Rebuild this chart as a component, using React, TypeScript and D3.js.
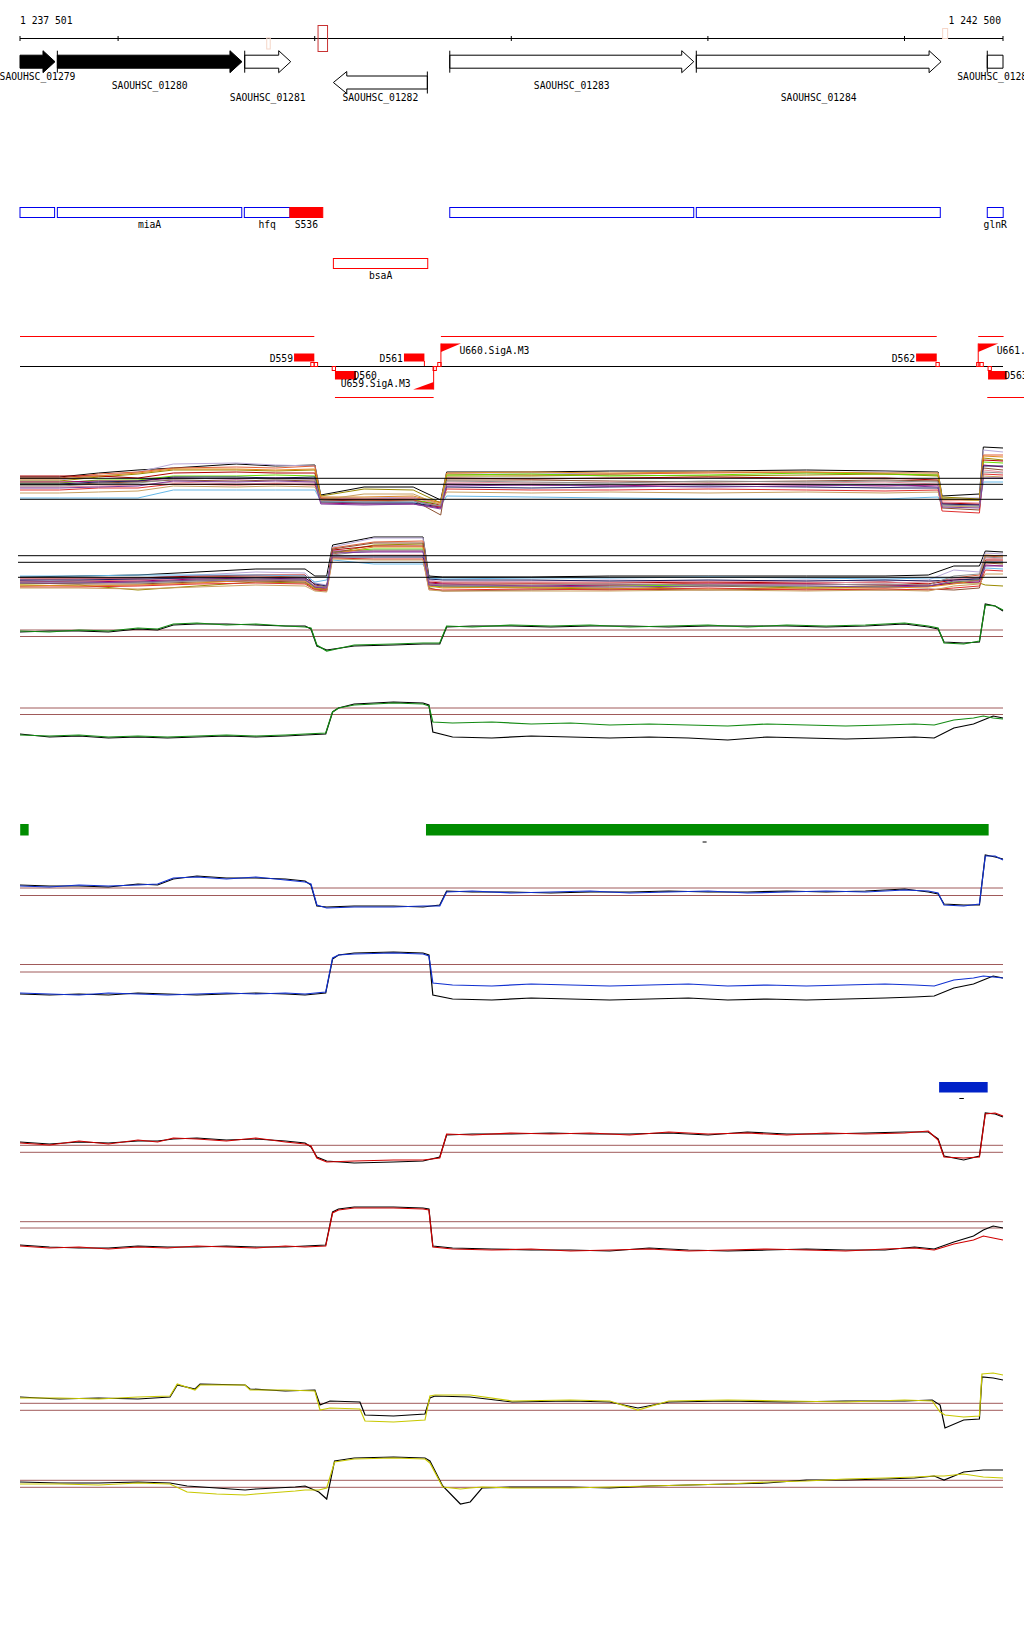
import React from 'react';
import * as d3 from 'd3';

// ---------- window ----------
const START = 1237501;
const END = 1242500;
const RULER_TICKS = [1238000, 1239000, 1240000, 1241000, 1242000];
const RULER_LABELS = ['1 237 501', '1 242 500'];

// ---------- genes (bp) ----------
const GENE_NAMES = ['SAOUHSC_01279', 'SAOUHSC_01280', 'SAOUHSC_01281', 'SAOUHSC_01282', 'SAOUHSC_01283', 'SAOUHSC_01284', 'SAOUHSC_01285'];
const GENE_FROM = [1237380, 1237691, 1238644, 1239095, 1239687, 1240941, 1242421];
const GENE_TO = [1237679, 1238630, 1238878, 1239573, 1240928, 1242186, 1242700];
const GENE_STRAND = [1, 1, 1, -1, 1, 1, 1];
const GENE_FILLED = [true, true, false, false, false, false, false];

// ---------- annotations (offsets from window start, bp) ----------
const ANNOT_NAMES = ['', 'miaA', 'hfq', 'S536', '', '', 'glnR'];
const ANNOT_FROM = [0, 190, 1141, 1373, 2186, 3440, 4920];
const ANNOT_TO = [176, 1128, 1373, 1540, 3427, 4681, 5001];
const ANNOT_KIND = ['cds', 'cds', 'cds', 'srna', 'cds', 'cds', 'cds'];
const ASRNA_NAMES = ['bsaA'];
const ASRNA_FROM = [1594];
const ASRNA_TO = [2074];

// ---------- ruler marks ----------
const MARK_RULER_POS = [1255, 1516, 4693];

// ---------- segments / promoters ----------
const PLUS_FROM = [0, 2141, 4874];
const PLUS_TO = [1497, 4663, 5003];
const MINUS_FROM = [1602, 4920];
const MINUS_TO = [2104, 5110];
const SEG_NAMES = ['D559', 'D560', 'D561', 'D562', 'D563'];
const SEG_FROM = [1394, 1602, 1953, 4558, 4924];
const SEG_TO = [1497, 1709, 2057, 4663, 5019];
const SEG_STRAND = [1, -1, 1, 1, -1];
const FLAG_NAMES = ['U659.SigA.M3', 'U660.SigA.M3', 'U661.SigA.M3'];
const FLAG_POS = [2104, 2141, 4874];
const FLAG_STRAND = [-1, 1, 1];
const MARK_POS = [1479, 1497, 1588, 2101, 2125, 4659, 4866, 4883, 4924];
const MARK_SIDE = [1, 1, -1, -1, 1, 1, 1, 1, -1];

// ---------- multi-series tracks ----------
const MULTI_COLORS = ['#000000', '#b8a8d8', '#e0603a', '#9a8a00', '#b00000', '#66dd00', '#a0006a', '#66b8e8', '#8b5030', '#e890a0', '#e08a20', '#202060', '#e03030', '#c8a060', '#909090', '#8040a0'];

const A_KNOTS = [0, 200, 400, 600, 780, 1100, 1300, 1500, 1530, 1750, 2000, 2140, 2170, 2600, 3000, 3500, 4000, 4400, 4670, 4690, 4880, 4900, 5000];
const A_SERIES = [
  [43, 43, 47, 50, 52, 56, 54, 55, 25, 33, 33, 20, 48, 48, 49, 49, 50, 49, 48, 24, 26, 73, 72],
  [40, 40, 44, 48, 56, 57, 55, 54, 23, 22, 23, 15, 47, 47, 46, 48, 47, 48, 47, 22, 22, 70, 68],
  [42, 42, 46, 48, 52, 53, 52, 54, 22, 21, 22, 18, 46, 45, 46, 47, 48, 46, 45, 20, 20, 65, 65],
  [39, 39, 43, 46, 50, 50, 49, 50, 24, 31, 30, 17, 44, 44, 45, 44, 45, 46, 44, 23, 21, 62, 60],
  [44, 44, 44, 42, 47, 48, 47, 47, 20, 19, 20, 15, 42, 41, 42, 43, 42, 42, 40, 17, 16, 60, 59],
  [37, 37, 40, 40, 44, 44, 45, 44, 21, 20, 20, 16, 45, 46, 44, 45, 47, 46, 45, 21, 20, 58, 57],
  [38, 38, 39, 39, 42, 41, 42, 41, 17, 16, 16, 12, 36, 35, 34, 36, 35, 34, 35, 16, 15, 55, 53],
  [22, 22, 22, 22, 30, 30, 30, 30, 19, 18, 18, 14, 24, 23, 22, 21, 21, 21, 23, 15, 14, 38, 38],
  [35, 35, 37, 38, 40, 39, 40, 39, 20, 20, 20, 5, 40, 40, 39, 38, 39, 40, 39, 12, 10, 52, 50],
  [33, 33, 34, 35, 38, 36, 37, 37, 22, 21, 22, 16, 38, 37, 38, 36, 37, 38, 36, 18, 17, 50, 48],
  [41, 41, 44, 47, 51, 51, 50, 51, 23, 23, 24, 17, 47, 48, 47, 48, 48, 47, 47, 21, 20, 64, 63],
  [36, 36, 38, 39, 43, 43, 42, 43, 18, 17, 17, 13, 33, 32, 33, 34, 33, 32, 32, 16, 15, 54, 54],
  [30, 30, 32, 32, 36, 35, 36, 35, 21, 20, 20, 13, 31, 30, 30, 31, 30, 29, 30, 9, 7, 46, 45],
  [27, 27, 28, 29, 34, 33, 34, 33, 20, 26, 26, 15, 28, 27, 28, 27, 28, 27, 28, 14, 13, 44, 43],
  [34, 34, 36, 37, 41, 42, 41, 41, 18, 18, 19, 14, 39, 38, 37, 39, 38, 39, 38, 15, 14, 48, 47],
  [32, 32, 33, 34, 39, 38, 39, 38, 16, 15, 16, 11, 34, 35, 34, 33, 34, 35, 33, 13, 12, 42, 42],
];
const A_REFS = [41.7, 35.7, 20.7];

const B_KNOTS = [0, 300, 600, 900, 1200, 1450, 1500, 1560, 1590, 1800, 2050, 2080, 2150, 2600, 3000, 3500, 4000, 4400, 4620, 4750, 4880, 4910, 5000];
const B_SERIES = [
  [23, 24, 25, 28, 31, 31, 24, 24, 55, 63, 63, 24, 23, 23, 24, 24, 24, 24, 25, 34, 34, 49, 48],
  [20, 21, 22, 25, 28, 27, 17, 15, 53, 62, 62, 20, 18, 19, 20, 19, 20, 19, 20, 30, 28, 47, 46],
  [18, 19, 20, 23, 24, 23, 12, 10, 52, 58, 59, 16, 15, 16, 15, 17, 16, 15, 16, 22, 25, 44, 43],
  [14, 15, 10, 14, 18, 17, 11, 10, 47, 55, 56, 15, 13, 12, 11, 14, 12, 13, 14, 17, 17, 15, 14],
  [22, 22, 22, 24, 25, 25, 15, 13, 50, 54, 54, 18, 17, 17, 17, 18, 17, 18, 16, 20, 22, 40, 40],
  [16, 17, 18, 20, 21, 20, 12, 11, 48, 51, 51, 13, 14, 13, 14, 15, 13, 14, 14, 18, 20, 38, 37],
  [19, 18, 19, 21, 22, 21, 13, 11, 49, 49, 49, 17, 16, 14, 15, 16, 16, 15, 14, 17, 18, 35, 34],
  [24, 24, 25, 25, 25, 24, 18, 20, 40, 36, 36, 22, 21, 22, 22, 23, 22, 21, 22, 22, 22, 32, 31],
  [17, 16, 16, 18, 19, 18, 11, 10, 51, 57, 57, 12, 9, 10, 11, 10, 11, 10, 11, 10, 12, 37, 36],
  [21, 20, 20, 22, 23, 22, 14, 12, 44, 45, 45, 19, 18, 18, 18, 19, 18, 17, 18, 21, 23, 42, 41],
  [15, 14, 15, 17, 20, 19, 11, 11, 46, 53, 53, 14, 12, 13, 12, 11, 12, 12, 13, 16, 20, 45, 44],
  [20, 20, 21, 22, 22, 22, 16, 14, 43, 43, 43, 21, 20, 20, 19, 20, 19, 20, 19, 20, 21, 38, 38],
  [13, 13, 14, 16, 17, 16, 10, 9, 42, 41, 41, 11, 10, 11, 10, 12, 10, 11, 10, 12, 14, 30, 29],
  [12, 12, 11, 13, 15, 14, 9, 8, 41, 40, 40, 10, 9, 9, 9, 10, 9, 10, 9, 14, 16, 26, 26],
  [18, 18, 17, 19, 21, 20, 14, 13, 45, 50, 50, 16, 15, 15, 16, 15, 15, 16, 15, 24, 26, 43, 42],
  [17, 17, 18, 20, 20, 20, 13, 12, 47, 48, 48, 15, 14, 14, 13, 14, 14, 13, 14, 19, 19, 34, 34],
];
const B_REFS = [44.3, 37.7, 22.7];

// ---------- paired tracks ----------
const KC = [0, 150, 300, 450, 600, 700, 780, 900, 1050, 1200, 1350, 1450, 1480, 1510, 1560, 1700, 1900, 2050, 2135, 2170, 2300, 2500, 2700, 2900, 3100, 3300, 3500, 3700, 3900, 4100, 4300, 4500, 4620, 4670, 4700, 4800, 4880, 4910, 4960, 5000];
const KD = [0, 150, 300, 450, 600, 750, 900, 1050, 1200, 1350, 1450, 1555, 1590, 1620, 1700, 1900, 2050, 2080, 2100, 2200, 2400, 2600, 2800, 3000, 3200, 3400, 3600, 3800, 4000, 4200, 4400, 4550, 4650, 4750, 4850, 4900, 4950, 5000];
const KI = [0, 200, 400, 600, 763, 800, 890, 916, 1145, 1170, 1350, 1500, 1526, 1577, 1729, 1755, 1900, 2060, 2085, 2111, 2289, 2503, 2800, 3000, 3143, 3300, 3600, 3900, 4200, 4500, 4640, 4680, 4705, 4800, 4880, 4893, 4950, 5000];
const KJ = [0, 200, 400, 600, 763, 850, 1000, 1145, 1200, 1400, 1450, 1520, 1560, 1600, 1700, 1900, 2060, 2085, 2150, 2240, 2290, 2350, 2503, 2800, 3000, 3200, 3400, 3600, 3800, 4000, 4200, 4400, 4550, 4650, 4700, 4800, 4900, 5000];

const C_GREEN = [29, 28, 30, 29, 32, 31, 36, 37, 35, 36, 34, 33, 32, 15, 9, 15, 16, 17, 17, 34, 33, 35, 34, 35, 33, 34, 35, 33, 35, 34, 35, 37, 34, 32, 17, 16, 19, 55, 54, 50];
const C_BLACK = [28, 29, 29, 28, 31, 30, 35, 36, 36, 35, 34, 34, 31, 14, 10, 14, 15, 16, 16, 33, 34, 34, 33, 34, 34, 33, 34, 34, 34, 33, 34, 36, 33, 31, 18, 17, 18, 56, 54, 49];
const C_REFS = [30, 23.5];

const D_GREEN = [25, 24, 25, 23, 24, 23, 24, 25, 24, 25, 26, 27, 48, 52, 55, 57, 56, 54, 38, 37, 38, 36, 37, 35, 36, 35, 34, 36, 35, 34, 35, 36, 35, 40, 42, 44, 42, 41];
const D_BLACK = [26, 23, 24, 22, 23, 22, 23, 24, 23, 24, 25, 26, 48, 52, 56, 58, 57, 55, 28, 23, 22, 24, 23, 22, 23, 22, 20, 23, 22, 21, 22, 23, 22, 32, 36, 40, 44, 42];
const D_REFS = [52, 45.5];

const E_BLUE = [44, 43, 45, 44, 45, 46, 52, 53, 51, 53, 50, 48, 46, 25, 22, 23, 23, 24, 24, 38, 39, 37, 38, 39, 37, 38, 39, 37, 38, 39, 38, 40, 39, 37, 25, 24, 26, 74, 74, 70];
const E_BLACK = [45, 44, 44, 43, 46, 45, 51, 54, 52, 52, 51, 49, 45, 24, 23, 24, 24, 23, 25, 39, 38, 38, 37, 38, 38, 39, 38, 38, 39, 38, 39, 41, 38, 36, 26, 25, 25, 75, 73, 71];
const E_REFS = [42, 34.5];

const F_BLUE = [27, 26, 25, 27, 26, 25, 26, 27, 26, 27, 26, 28, 62, 65, 66, 67, 66, 64, 37, 35, 34, 36, 35, 34, 35, 36, 34, 35, 34, 35, 36, 35, 34, 40, 42, 44, 43, 42];
const F_BLACK = [26, 25, 26, 25, 27, 26, 25, 26, 27, 26, 25, 27, 61, 65, 67, 68, 67, 65, 25, 21, 20, 22, 21, 20, 21, 22, 20, 21, 20, 21, 22, 23, 24, 32, 36, 40, 44, 42];
const F_REFS = [55.5, 48];

const G_RED = [37, 35, 39, 36, 40, 38, 42, 41, 39, 42, 38, 36, 34, 22, 18, 19, 20, 20, 22, 46, 45, 47, 46, 47, 45, 48, 46, 47, 45, 47, 46, 47, 49, 40, 23, 22, 23, 66, 67, 64];
const G_BLACK = [38, 36, 38, 37, 39, 39, 41, 42, 40, 41, 39, 37, 33, 23, 19, 17, 18, 19, 23, 45, 46, 46, 47, 46, 46, 47, 45, 48, 46, 46, 47, 48, 48, 41, 24, 20, 24, 67, 66, 63];
const G_REFS = [34.7, 27.7];

const H_RED = [24, 22, 23, 21, 23, 22, 24, 23, 22, 24, 23, 24, 57, 60, 62, 62, 61, 60, 23, 21, 20, 21, 19, 20, 21, 19, 20, 21, 20, 19, 21, 22, 20, 26, 30, 34, 32, 30];
const H_BLACK = [25, 23, 22, 22, 24, 23, 23, 24, 23, 23, 24, 25, 58, 61, 63, 63, 62, 61, 24, 22, 21, 20, 20, 19, 22, 20, 19, 20, 21, 20, 20, 23, 21, 28, 34, 40, 44, 42];
const H_REFS = [48.3, 42];

const I_YELLOW = [52, 52, 51, 53, 54, 66, 60, 65, 65, 60, 60, 59, 40, 42, 41, 29, 28, 30, 54, 55, 55, 49, 50, 49, 40, 49, 50, 49, 48, 50, 49, 38, 35, 33, 34, 76, 77, 75];
const I_BLACK = [53, 51, 52, 51, 53, 65, 61, 66, 65, 61, 59, 60, 45, 49, 48, 35, 34, 36, 52, 54, 53, 48, 49, 48, 42, 48, 49, 48, 49, 49, 50, 45, 22, 30, 31, 73, 72, 70];
const I_REFS = [46.7, 39.7];

const J_YELLOW = [46, 46, 45, 47, 46, 38, 36, 35, 36, 39, 40, 40, 42, 68, 71, 72, 71, 67, 43, 41, 42, 43, 42, 42, 43, 44, 45, 46, 48, 49, 51, 52, 53, 54, 54, 56, 53, 52];
const J_BLACK = [48, 47, 47, 48, 47, 44, 42, 40, 41, 43, 44, 38, 31, 69, 72, 73, 72, 69, 44, 26, 28, 42, 43, 43, 42, 44, 45, 46, 47, 50, 50, 51, 52, 54, 50, 58, 60, 60];
const J_REFS = [49.7, 42.7];

// ---------- region bars ----------
const GREEN_FROM = [1, 2065];
const GREEN_TO = [44, 4927];
const GREEN_DASH = [3472];
const BLUE_FROM = [4675];
const BLUE_TO = [4922];
const BLUE_DASH = [4778];

// ---------- layout ----------
const X0 = 20;
const X1 = 1003;
const RULER_Y = 38.5;
const GENE_CY = [61.7, 82.5];
const GENE_LABEL_Y = [79.5, 89, 101, 101, 89, 101, 79.5];
const FONT = "'DejaVu Sans Mono', 'Liberation Mono', monospace";

export default function App() {
  const x = d3.scaleLinear().domain([0, END - START + 1]).range([X0, X1]);
  const gx = (bp: number) => x(bp - START);
  const yTrack = (bottom: number) => d3.scaleLinear().domain([0, 100]).range([bottom, bottom - 100]);

  const lineOf = (knots: number[], y: d3.ScaleLinear<number, number>) =>
    d3.line<number>().x((_, i) => x(knots[i])).y((v) => y(v));

  // ---- genes ----
  const genes = GENE_NAMES.map((name, i) => {
    const xs = Math.max(gx(GENE_FROM[i]), X0);
    const xe = Math.min(gx(GENE_TO[i]), X1);
    const rev = GENE_STRAND[i] < 0;
    const cy = rev ? GENE_CY[1] : GENE_CY[0];
    const bh = 6.5, hh = 11, hl = 12;
    let pts: [number, number][];
    const startClipped = GENE_FROM[i] < START;
    const endClipped = GENE_TO[i] > END;
    if (!rev) {
      if (endClipped) {
        pts = [[xs, cy - bh], [xe, cy - bh], [xe, cy + bh], [xs, cy + bh]];
      } else {
        const hx = xe - hl;
        pts = [[xs, cy - bh], [hx, cy - bh], [hx, cy - hh], [xe, cy], [hx, cy + hh], [hx, cy + bh], [xs, cy + bh]];
      }
    } else {
      const hx = xs + hl + 1.4;
      pts = [[xe, cy - bh], [hx, cy - bh], [hx, cy - hh], [xs, cy], [hx, cy + hh], [hx, cy + bh], [xe, cy + bh]];
    }
    const barX = rev ? xe : xs;
    const showBar = rev ? GENE_TO[i] <= END : !startClipped;
    return (
      <g key={name}>
        <polygon points={pts.map((p) => p.join(',')).join(' ')} fill={GENE_FILLED[i] ? '#000' : '#fff'} stroke="#000" strokeWidth={1} />
        {showBar && <line x1={barX} x2={barX} y1={cy - hh} y2={cy + hh} stroke="#000" strokeWidth={1} />}
        <text x={(xs + xe) / 2} y={GENE_LABEL_Y[i]} textAnchor="middle">{name}</text>
      </g>
    );
  });

  // ---- paired tracks ----
  const paired = [
    { knots: KC, bottom: 660, refs: C_REFS, series: [[C_BLACK, '#000'], [C_GREEN, '#138a13']] },
    { knots: KD, bottom: 760, refs: D_REFS, series: [[D_BLACK, '#000'], [D_GREEN, '#138a13']] },
    { knots: KC, bottom: 930, refs: E_REFS, series: [[E_BLACK, '#000'], [E_BLUE, '#1030d0']] },
    { knots: KD, bottom: 1020, refs: F_REFS, series: [[F_BLACK, '#000'], [F_BLUE, '#1030d0']] },
    { knots: KC, bottom: 1180, refs: G_REFS, series: [[G_BLACK, '#000'], [G_RED, '#d00000']] },
    { knots: KD, bottom: 1270, refs: H_REFS, series: [[H_BLACK, '#000'], [H_RED, '#d00000']] },
    { knots: KI, bottom: 1450, refs: I_REFS, series: [[I_BLACK, '#000'], [I_YELLOW, '#c8c800']] },
    { knots: KJ, bottom: 1530, refs: J_REFS, series: [[J_BLACK, '#000'], [J_YELLOW, '#c8c800']] },
  ];

  const yA = yTrack(520);
  const yB = yTrack(600);

  const segRectY = (strand: number) => (strand > 0 ? [353.5, 361.5] : [371, 379.5]);

  return (
    <svg width={1024} height={1640} style={{ position: 'absolute', left: 0, top: 0, background: '#fff' }} fontFamily={FONT} fontSize={9.7}>
      <rect x={0} y={0} width={1024} height={1640} fill="#fff" />
      {/* ruler */}
      <line x1={X0} x2={X1} y1={RULER_Y} y2={RULER_Y} stroke="#000" />
      {[0, ...RULER_TICKS.map((t) => t - START), END - START + 1].map((t, i) => (
        <line key={i} x1={x(t)} x2={x(t)} y1={RULER_Y - 2.5} y2={RULER_Y + 2.5} stroke="#000" />
      ))}
      <text x={X0} y={24}>{RULER_LABELS[0]}</text>
      <text x={X1 - 2} y={24} textAnchor="end">{RULER_LABELS[1]}</text>
      <rect x={x(MARK_RULER_POS[0])} y={38} width={3.5} height={11} fill="none" stroke="#f5d6c8" />
      <rect x={x(MARK_RULER_POS[1])} y={25.5} width={9.5} height={26} fill="none" stroke="#c83232" />
      <rect x={x(MARK_RULER_POS[2])} y={28.5} width={5} height={10} fill="none" stroke="#f5d6c8" />

      {genes}

      {/* annotations */}
      {ANNOT_NAMES.map((n, i) => {
        const x1 = x(ANNOT_FROM[i]);
        const x2 = x(ANNOT_TO[i]);
        const srna = ANNOT_KIND[i] === 'srna';
        return (
          <g key={'a' + i}>
            <rect x={x1} y={207.5} width={x2 - x1} height={10} fill={srna ? '#ff0000' : 'none'} stroke={srna ? '#ff0000' : '#0000ee'} strokeWidth={1} />
            {n && <text x={(x1 + x2) / 2} y={228} textAnchor="middle">{n}</text>}
          </g>
        );
      })}
      {ASRNA_NAMES.map((n, i) => {
        const x1 = x(ASRNA_FROM[i]);
        const x2 = x(ASRNA_TO[i]);
        return (
          <g key={'r' + i}>
            <rect x={x1} y={258.5} width={x2 - x1} height={10} fill="none" stroke="#ff0000" />
            <text x={(x1 + x2) / 2} y={279} textAnchor="middle">{n}</text>
          </g>
        );
      })}

      {/* segment track */}
      {PLUS_FROM.map((f, i) => (
        <line key={'p' + i} x1={x(f)} x2={x(PLUS_TO[i])} y1={336.5} y2={336.5} stroke="#ff0000" />
      ))}
      {MINUS_FROM.map((f, i) => (
        <line key={'m' + i} x1={x(f)} x2={x(MINUS_TO[i])} y1={397.5} y2={397.5} stroke="#ff0000" />
      ))}
      <line x1={X0} x2={X1} y1={366.5} y2={366.5} stroke="#000" />
      {SEG_NAMES.map((n, i) => {
        const [t, b] = segRectY(SEG_STRAND[i]);
        const x1 = x(SEG_FROM[i]);
        const x2 = x(SEG_TO[i]);
        return (
          <g key={'s' + i}>
            <rect x={x1} y={t} width={x2 - x1} height={b - t} fill="#ff0000" />
            {SEG_STRAND[i] > 0 ? (
              <text x={x1 - 1} y={362} textAnchor="end">{n}</text>
            ) : (
              <text x={x2 - 2.5} y={378.5}>{n}</text>
            )}
          </g>
        );
      })}
      <line x1={x(SEG_TO[2])} x2={x(SEG_TO[2])} y1={361} y2={366} stroke="#ff0000" />
      {MARK_POS.map((p, i) => (
        <rect key={'k' + i} x={x(p)} y={MARK_SIDE[i] > 0 ? 362.5 : 366.5} width={3.3} height={4} fill="#fff" stroke="#ff0000" />
      ))}
      {FLAG_NAMES.map((n, i) => {
        const fx = x(FLAG_POS[i]);
        if (FLAG_STRAND[i] > 0) {
          return (
            <g key={'f' + i}>
              <line x1={fx} x2={fx} y1={366} y2={343.5} stroke="#ff0000" />
              <polygon points={`${fx},343.5 ${fx + 20},343.5 ${fx},352`} fill="#ff0000" />
              <text x={fx + 18.5} y={353.5}>{n}</text>
            </g>
          );
        }
        return (
          <g key={'f' + i}>
            <line x1={fx} x2={fx} y1={366} y2={389.5} stroke="#ff0000" />
            <polygon points={`${fx},389.5 ${fx - 20.5},389.5 ${fx},382`} fill="#ff0000" />
            <text x={fx - 93} y={387}>{n}</text>
          </g>
        );
      })}

      {/* multi-series track A */}
      {A_SERIES.map((s, i) => (
        <path key={'A' + i} d={lineOf(A_KNOTS, yA)(s) || ''} fill="none" stroke={MULTI_COLORS[i]} strokeWidth={1} />
      ))}
      {A_REFS.map((r, i) => (
        <line key={'Ar' + i} x1={X0} x2={X1} y1={yA(r)} y2={yA(r)} stroke="#000" />
      ))}
      {/* multi-series track B */}
      {B_SERIES.map((s, i) => (
        <path key={'B' + i} d={lineOf(B_KNOTS, yB)(s) || ''} fill="none" stroke={MULTI_COLORS[i]} strokeWidth={1} />
      ))}
      {B_REFS.map((r, i) => (
        <line key={'Br' + i} x1={18} x2={1007} y1={yB(r)} y2={yB(r)} stroke="#000" />
      ))}

      {/* paired tracks */}
      {paired.map((t, ti) => {
        const y = yTrack(t.bottom);
        const ln = lineOf(t.knots, y);
        return (
          <g key={'T' + ti}>
            {t.refs.map((r, i) => (
              <line key={i} x1={X0} x2={X1} y1={y(r)} y2={y(r)} stroke="#a05a5a" />
            ))}
            {t.series.map(([vals, col], i) => (
              <path key={i} d={ln(vals as number[]) || ''} fill="none" stroke={col as string} strokeWidth={1.2} />
            ))}
          </g>
        );
      })}

      {/* region bars */}
      {GREEN_FROM.map((f, i) => (
        <rect key={'g' + i} x={x(f)} y={824} width={x(GREEN_TO[i]) - x(f)} height={11.5} fill="#008c00" />
      ))}
      {GREEN_DASH.map((d, i) => (
        <line key={'gd' + i} x1={x(d)} x2={x(d) + 4} y1={842} y2={842} stroke="#000" />
      ))}
      {BLUE_FROM.map((f, i) => (
        <rect key={'b' + i} x={x(f)} y={1082} width={x(BLUE_TO[i]) - x(f)} height={10.5} fill="#0022c8" />
      ))}
      {BLUE_DASH.map((d, i) => (
        <line key={'bd' + i} x1={x(d)} x2={x(d) + 4.5} y1={1098.5} y2={1098.5} stroke="#000" />
      ))}
    </svg>
  );
}
